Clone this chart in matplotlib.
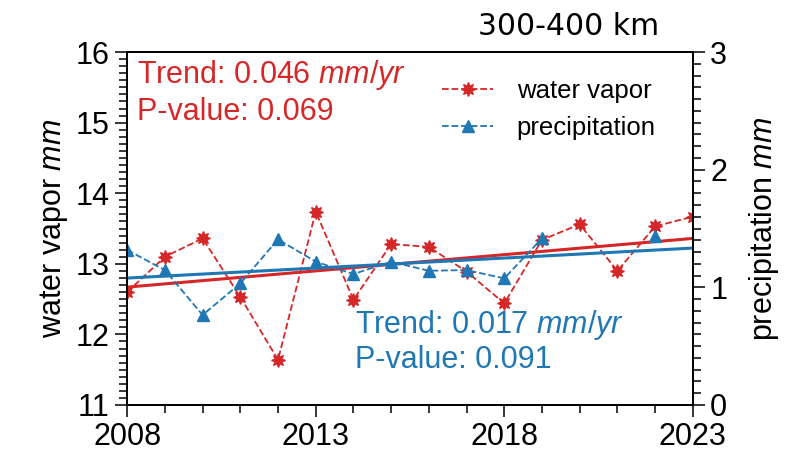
import numpy as np
import matplotlib
matplotlib.use("Agg")
import matplotlib.pyplot as plt

plt.rcParams['font.family'] = ['Liberation Sans', 'DejaVu Sans']
plt.rcParams['mathtext.fontset'] = 'custom'
plt.rcParams['mathtext.rm'] = 'Liberation Sans'
plt.rcParams['mathtext.it'] = 'Liberation Sans:italic'

# Data
years = np.arange(2008, 2024)
water_vapor = [12.60, 13.10, 13.36, 12.53, 11.64, 13.74, 12.49, 13.28,
               13.24, 12.89, 12.44, 13.34, 13.56, 12.90, 13.53, 13.67]
precip = [1.317, 1.147, 0.765, 1.034, 1.408, 1.218, 1.113, 1.218,
          1.141, 1.147, 1.076, 1.416, np.nan, np.nan, 1.436, np.nan]

# Trend lines (slope per year, value at 2008)
wv_slope, wv_start = 0.046, 12.67
pr_slope, pr_start = 0.017, 1.079
wv_p, pr_p = 0.069, 0.091

red = '#d62728'
blue = '#1f77b4'

fig, ax = plt.subplots(figsize=(8, 4.61), dpi=100)
fig.subplots_adjust(left=0.159, right=0.866, bottom=0.1215, top=0.887)
ax2 = ax.twinx()

l1, = ax.plot(years, water_vapor, '--', color=red, lw=1.3,
              marker=(8, 1, 0), markersize=10, label='water vapor')
ax.plot(years, wv_start + wv_slope * (years - 2008), '-', color=red, lw=2.2)

l2, = ax2.plot(years, precip, '--', color=blue, lw=1.3,
               marker='^', markersize=9, label='precipitation')
ax2.plot(years, pr_start + pr_slope * (years - 2008), '-', color=blue, lw=2.2)

ax.set_xlim(2008, 2023)
ax.set_ylim(11, 16)
ax2.set_ylim(0, 3)
ax.set_xticks([2008, 2013, 2018, 2023])
ax.set_xticks(years, minor=True)
ax.set_yticks(np.arange(11, 17))
ax.set_yticks(np.arange(11, 16.01, 0.1), minor=True)
ax2.set_yticks([0, 1, 2, 3])
ax2.set_yticks(np.arange(0, 3.01, 0.1), minor=True)

for a in (ax, ax2):
    a.tick_params(which='major', direction='out', length=8.5, width=1.1,
                  labelsize=22, pad=4)
    a.tick_params(which='minor', direction='out', length=5.5, width=1.1)
    for s in a.spines.values():
        s.set_linewidth(1.3)

ax.set_ylabel('water vapor $\\mathit{mm}$', fontsize=22)
ax2.set_ylabel('precipitation $\\mathit{mm}$', fontsize=22, labelpad=14)

ax.text(0.018, 0.912, 'Trend: %.3f $\\mathit{mm/yr}$' % wv_slope, color=red,
        fontsize=22, transform=ax.transAxes, va='baseline')
ax.text(0.018, 0.807, 'P-value: %.3f' % wv_p, color=red,
        fontsize=22, transform=ax.transAxes, va='baseline')
ax.text(0.403, 0.204, 'Trend: %.3f $\\mathit{mm/yr}$' % pr_slope, color=blue,
        fontsize=22, transform=ax.transAxes, va='baseline')
ax.text(0.403, 0.105, 'P-value: %.3f' % pr_p, color=blue,
        fontsize=22, transform=ax.transAxes, va='baseline')

ax.text(0.781, 1.048, '300-400 km', fontsize=21.5, ha='center',
        va='baseline', transform=ax.transAxes, family='DejaVu Sans')

ax.legend(handles=[l1, l2], loc='upper right', bbox_to_anchor=(0.975, 0.99),
          frameon=False, fontsize=18.5, handlelength=2, handletextpad=0.9)

fig.savefig('out.png', dpi=100)
